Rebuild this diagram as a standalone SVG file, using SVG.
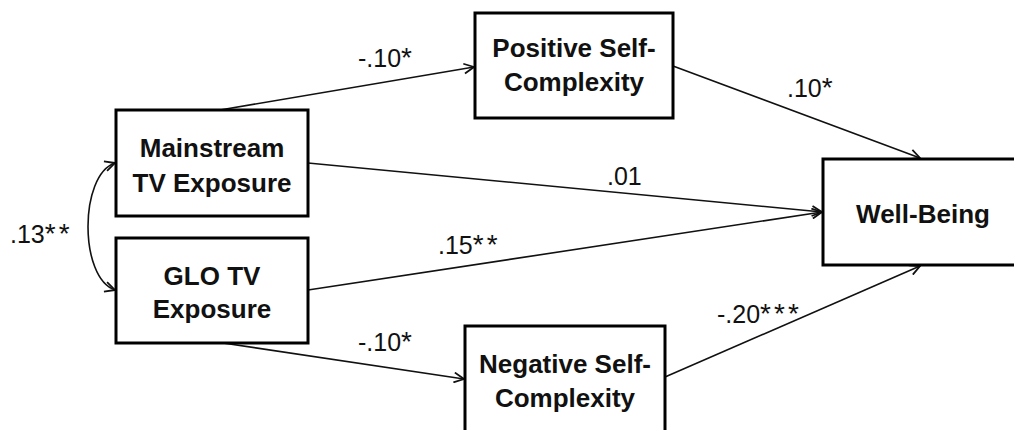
<svg xmlns="http://www.w3.org/2000/svg" width="1014" height="430" viewBox="0 0 1014 430">
<style>
.box{fill:#fff;stroke:#000;stroke-width:3}
.nt{font-family:"Liberation Sans",Arial,sans-serif;font-weight:bold;font-size:26px;fill:#111;text-anchor:middle}
.lb{font-family:"Liberation Sans",Arial,sans-serif;font-size:25px;fill:#111}
.st{font-size:28px;letter-spacing:3px}
.cn{fill:none;stroke:#111;stroke-width:1.6}
</style>
<defs>
<marker id="ah" viewBox="0 0 12 12" refX="11" refY="6" markerWidth="12" markerHeight="12" markerUnits="userSpaceOnUse" orient="auto-start-reverse">
<path d="M1,1 L11,6 L1,11" fill="none" stroke="#111" stroke-width="1.8"/>
</marker>
</defs>
<rect width="1014" height="430" fill="#fff"/>
<g id="connectors">
<path class="cn" d="M220,110 L474,67" marker-end="url(#ah)"/>
<path class="cn" d="M673,66 L920,158" marker-end="url(#ah)"/>
<path class="cn" d="M308,163 L822,212" marker-end="url(#ah)"/>
<path class="cn" d="M308,290 L822,212" marker-end="url(#ah)"/>
<path class="cn" d="M223,343 L464,379" marker-end="url(#ah)"/>
<path class="cn" d="M665,377 L920,266" marker-end="url(#ah)"/>
<path class="cn" d="M115,163 C79,175 79,278 115,290" marker-start="url(#ah)" marker-end="url(#ah)"/>
<text class="lb" x="358" y="67">-.10<tspan class="st">*</tspan></text>
<text class="lb" x="787" y="97">.10<tspan class="st">*</tspan></text>
<text class="lb" x="607" y="185">.01</text>
<text class="lb" x="438" y="254">.15<tspan class="st">**</tspan></text>
<text class="lb" x="358" y="351">-.10<tspan class="st">*</tspan></text>
<text class="lb" x="717" y="323">-.20<tspan class="st">***</tspan></text>
<text class="lb" x="10" y="243">.13<tspan class="st">**</tspan></text>
</g>
<g id="mainstream">
<rect class="box" x="116" y="110" width="192" height="106"/>
<text class="nt" x="212" y="157">Mainstream</text>
<text class="nt" x="212" y="192">TV Exposure</text>
</g>
<g id="glo">
<rect class="box" x="116" y="238" width="192" height="105"/>
<text class="nt" x="212" y="285">GLO TV</text>
<text class="nt" x="212" y="318">Exposure</text>
</g>
<g id="positive">
<rect class="box" x="475" y="13" width="198" height="105"/>
<text class="nt" x="574" y="57">Positive Self-</text>
<text class="nt" x="574" y="91">Complexity</text>
</g>
<g id="negative">
<rect class="box" x="465" y="326" width="200" height="108"/>
<text class="nt" x="565" y="373">Negative Self-</text>
<text class="nt" x="565" y="407">Complexity</text>
</g>
<g id="wellbeing">
<rect class="box" x="823" y="159" width="200" height="106"/>
<text class="nt" x="923" y="223">Well-Being</text>
</g>
</svg>
